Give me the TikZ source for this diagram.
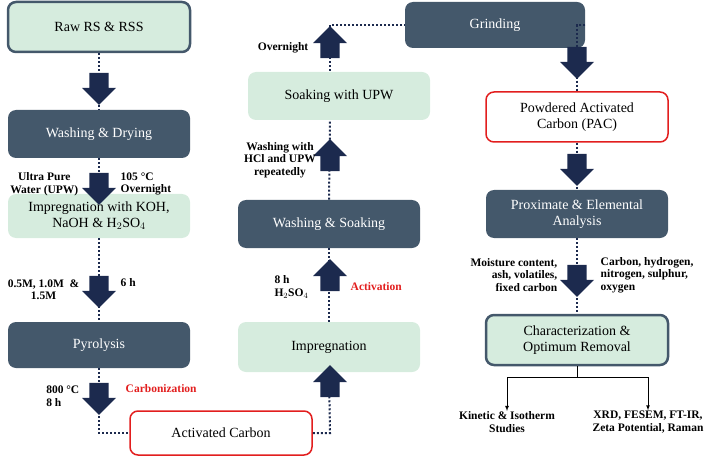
\documentclass[tikz,border=0pt]{standalone}
\usepackage{fontspec}
\setmainfont{Liberation Serif}
\usetikzlibrary{shapes.arrows}
\definecolor{slate}{RGB}{68,88,107}
\definecolor{mint}{RGB}{214,236,222}
\definecolor{navy}{RGB}{28,42,78}
\definecolor{redline}{RGB}{226,30,30}
\tikzset{every picture/.style={line width=0.75pt}}
\tikzset{
  box/.style={rounded corners=8pt, minimum width=182pt, minimum height=48pt, align=center, font=\fontsize{14}{16}\selectfont},
  dark/.style={box, fill=slate, text=white},
  light/.style={box, fill=mint},
  lightb/.style={box, fill=mint, draw=slate, line width=2.5pt},
  redb/.style={box, fill=white, draw=redline, line width=1.5pt},
  blk/.style={single arrow, fill=navy, minimum width=34pt, minimum height=32pt, inner sep=0pt},
  dots/.style={navy, line width=2pt, dotted},
  lbl/.style={font=\bfseries\fontsize{11.5}{12.5}\selectfont, align=center},
}
\newcommand{\shaft}{\rule{0pt}{18pt}}
\begin{document}
\begin{tikzpicture}[x=1pt,y=-1pt]
\useasboundingbox (0,0) rectangle (708,462);
% boxes
\node[lightb, minimum height=50pt] (raw) at (99,27) {Raw RS \& RSS};
\node[dark] (wash) at (99,134) {Washing \& Drying};
\node[light, minimum height=44pt] (impk) at (99,216) {Impregnation with KOH,\\NaOH \& H$_2$SO$_4$};
\node[dark, minimum height=46pt] (pyro) at (99,345) {Pyrolysis};
\node[redb, minimum height=44pt] (ac) at (221,433) {Activated Carbon};
\node[light, minimum height=50pt] (imp) at (329,347) {Impregnation};
\node[dark] (ws) at (329,224) {Washing \& Soaking};
\node[light] (sk) at (339,96) {Soaking with UPW};
\node[dark, minimum height=46pt, minimum width=180pt] (grind) at (495,25) {Grinding};
\node[redb, minimum height=50pt] (pac) at (577,117) {Powdered Activated\\Carbon (PAC)};
\node[dark] (prox) at (577,214) {Proximate \& Elemental\\Analysis};
\node[lightb, minimum height=50pt] (char) at (577,340) {Characterization \&\\Optimum Removal};
% dotted links
\coordinate (c1) at (99,433);
\coordinate (c2) at (330,433);
\coordinate (c3) at (330,25);
\coordinate (c4) at (577,25);
\draw[dots] (raw) -- (wash);
\draw[dots] (wash) -- (impk);
\draw[dots] (impk) -- (pyro);
\draw[dots] (pyro.south) -- (c1) -- (ac.west);
\draw[dots] (ac.east) -- (c2) -- (imp.south);
\draw[dots] (imp.north) -- (ws.south);
\draw[dots] (ws.north) -- (330,121);
\draw[dots] (330,71) -- (c3) -- (grind.west);
\draw[dots] (grind.east) -- (c4) -- (pac.north);
\draw[dots] (pac) -- (prox);
\draw[dots] (prox) -- (char);
% block arrows
\node[blk, rotate=270] (a1) at (99,84) {\shaft};
\node[blk, rotate=270] (a2) at (99,184) {\shaft};
\node[blk, rotate=270] (a3) at (99,287) {\shaft};
\node[blk, rotate=270] (a4) at (99,394) {\shaft};
\node[blk, rotate=90] (a5) at (330,386) {\shaft};
\node[blk, rotate=90] (a6) at (330,280) {\shaft};
\node[blk, rotate=90] (a7) at (330,160) {\shaft};
\node[blk, rotate=90] (a8) at (330,47) {\shaft};
\node[blk, rotate=270] (a9) at (577,58) {\shaft};
\node[blk, rotate=270] (a10) at (577,165) {\shaft};
\node[blk, rotate=270] (a11) at (577,276) {\shaft};
% labels
\node[lbl, anchor=east] (l1) at (82,184) {Ultra Pure\\Water (UPW)};
\node[lbl, anchor=west, align=left] (l2) at (117,184) {105 °C\\Overnight};
\node[lbl, anchor=east] (l3) at (83,290) {0.5M, 1.0M \ \&\\1.5M};
\node[lbl, anchor=west] (l4) at (117,283) {6 h};
\node[lbl, anchor=east, align=left] (l5) at (83,396) {800 °C\\8 h};
\node[lbl, anchor=west, text=redline] (l6) at (122,389) {Carbonization};
\node[lbl, anchor=east, align=left] (l7) at (312,287) {8 h\\H$_2$SO$_4$};
\node[lbl, anchor=west, text=redline] (l8) at (347,287) {Activation};
\node[lbl] (l9) at (280,160) {Washing with\\HCl and UPW\\repeatedly};
\node[lbl, anchor=east] (l10) at (312,48) {Overnight};
\node[lbl, anchor=east, align=right] (l11) at (561,275) {Moisture content,\\ash, volatiles,\\fixed carbon};
\node[lbl, anchor=west, align=left] (l12) at (597,275) {Carbon, hydrogen,\\nitrogen, sulphur,\\oxygen};
\node[lbl] (k) at (507,422) {Kinetic \& Isotherm\\Studies};
\node[lbl] (x) at (648,422) {XRD, FESEM, FT-IR,\\Zeta Potential, Raman};
% branch
\coordinate (b) at (577,377);
\draw (char.south) -- (b);
\draw[-latex] (b) -| ([yshift=-3pt]k.north);
\draw[-latex] (b) -| ([yshift=-3pt]x.north);
\end{tikzpicture}
\end{document}
